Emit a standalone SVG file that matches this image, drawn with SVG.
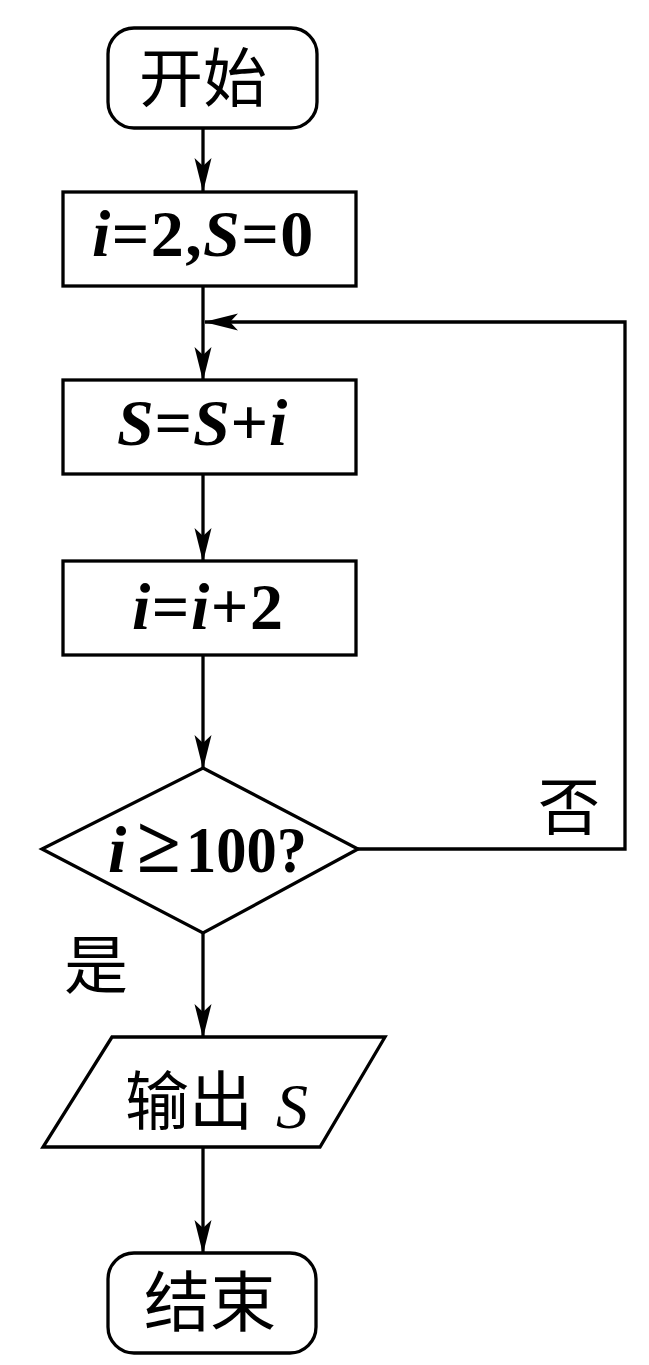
<svg xmlns="http://www.w3.org/2000/svg" width="649" height="1365" viewBox="0 0 649 1365">
<defs>
<style>
.shape{fill:#fff;stroke:#000;stroke-width:3.3}
.conn{fill:none;stroke:#000;stroke-width:3.3}
.cjk{font-family:"Noto Sans CJK SC","Noto Sans CJK JP",sans-serif;fill:#000}
.math{font-family:"Liberation Serif","Times New Roman",serif;font-weight:bold;fill:#000;font-size:66px}
.it{font-style:italic}
</style>
<marker id="arr" viewBox="0 0 34 20" refX="33" refY="10" markerWidth="34" markerHeight="20" markerUnits="userSpaceOnUse" orient="auto">
<path d="M0,1.5 L34,10 L0,18.5 L8,10 Z" fill="#000"/>
</marker>
</defs>
<rect width="649" height="1365" fill="#fff"/>
<g id="connectors">
<line class="conn" x1="203" y1="129" x2="203" y2="191" marker-end="url(#arr)"/>
<line class="conn" x1="203" y1="287" x2="203" y2="380" marker-end="url(#arr)"/>
<line class="conn" x1="203" y1="474" x2="203" y2="561" marker-end="url(#arr)"/>
<line class="conn" x1="203" y1="655" x2="203" y2="768" marker-end="url(#arr)"/>
<line class="conn" x1="203" y1="933" x2="203" y2="1037" marker-end="url(#arr)"/>
<line class="conn" x1="203" y1="1147" x2="203" y2="1253" marker-end="url(#arr)"/>
<polyline class="conn" points="358,849 625,849 625,322 205,322" marker-end="url(#arr)"/>
<text class="cjk" x="538" y="830" font-size="62">否</text>
<text class="cjk" x="64" y="988" font-size="64">是</text>
</g>
<g id="start">
<rect class="shape" x="108" y="28" width="209" height="100" rx="26"/>
<text class="cjk" x="203" y="101" font-size="64" text-anchor="middle">开始</text>
</g>
<g id="init">
<rect class="shape" x="63" y="192" width="293" height="94"/>
<text class="math" x="92" y="256" letter-spacing="1.4"><tspan class="it">i</tspan>=2,<tspan class="it">S</tspan>=0</text>
</g>
<g id="sum">
<rect class="shape" x="63" y="380" width="293" height="94"/>
<text class="math" x="117" y="445" letter-spacing="0.8"><tspan class="it">S</tspan>=<tspan class="it">S</tspan>+<tspan class="it">i</tspan></text>
</g>
<g id="inc">
<rect class="shape" x="63" y="561" width="293" height="94"/>
<text class="math" x="132" y="629" letter-spacing="1.5"><tspan class="it">i</tspan>=<tspan class="it">i</tspan>+2</text>
</g>
<g id="cond">
<polygon class="shape" points="203,768 358,849 203,933 42,849"/>
<text class="math" font-size="65" y="872"><tspan class="it" x="108">i</tspan><tspan x="137" style="font-size:80px">≥</tspan><tspan x="186" textLength="121" lengthAdjust="spacingAndGlyphs">100?</tspan></text>
</g>
<g id="output">
<polygon class="shape" points="112,1037 385,1037 320,1147 43,1147"/>
<text class="cjk" x="125" y="1124" font-size="64">输出</text>
<text class="math it" x="276" y="1128" style="font-size:64px;font-weight:normal">S</text>
</g>
<g id="end">
<rect class="shape" x="108" y="1253" width="208" height="100" rx="26"/>
<text class="cjk" x="210" y="1326" font-size="66" text-anchor="middle">结束</text>
</g>
</svg>
